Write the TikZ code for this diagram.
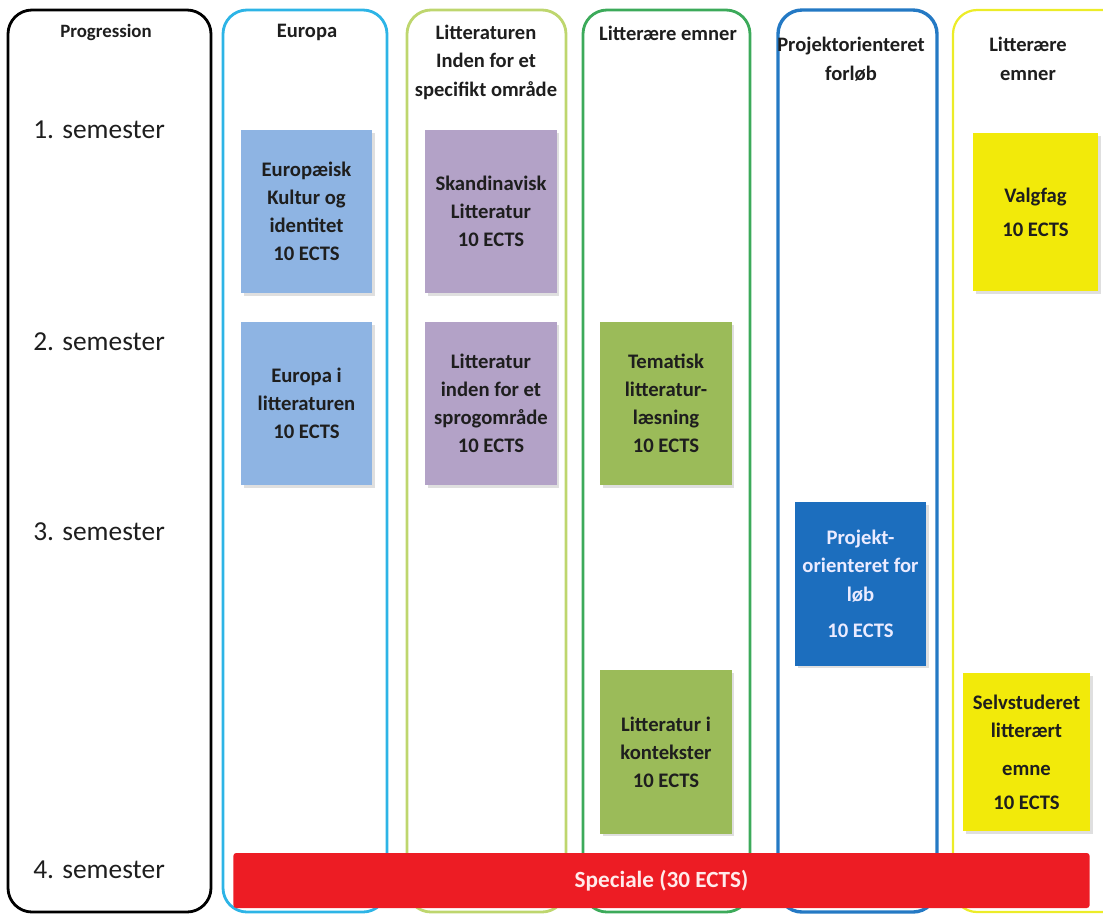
\documentclass[tikz,border=0pt]{standalone}
\usepackage{fontspec}
\setmainfont{Carlito}
\usetikzlibrary{shadows}
\definecolor{lanecyan}{RGB}{45,180,230}
\definecolor{lanelime}{RGB}{190,214,110}
\definecolor{lanegreen}{RGB}{60,170,90}
\definecolor{laneblue}{RGB}{36,121,196}
\definecolor{laneyellow}{RGB}{236,236,40}
\definecolor{boxblue}{RGB}{142,180,227}
\definecolor{boxlilac}{RGB}{179,162,199}
\definecolor{boxolive}{RGB}{155,187,89}
\definecolor{boxnavy}{RGB}{28,110,190}
\definecolor{boxyellow}{RGB}{242,234,10}
\definecolor{boxred}{RGB}{237,28,36}
\definecolor{txt}{RGB}{30,30,30}

\begin{document}
\begin{tikzpicture}[x=0.025cm,y=-0.025cm,
  lane/.style={rounded corners=0.6cm,line width=2pt},
  head/.style={align=center,text=txt,inner sep=0pt,font=\bfseries\fontsize{14.6}{20.3}\selectfont},
  sem/.style={anchor=west,text=txt,inner sep=0pt,font=\fontsize{19.5}{23}\selectfont},
  course/.style={align=center,text=txt,inner sep=0pt,minimum width=3.275cm,minimum height=4.075cm,
    font=\bfseries\fontsize{14.7}{20}\selectfont,
    drop shadow={shadow xshift=2pt,shadow yshift=-2pt,opacity=0.25}}]
\useasboundingbox (0,0) rectangle (1103,917);
\clip (0,0) rectangle (1103,917);

\draw [lane,draw=black] (8,10) rectangle (211,912);
\draw [lane,draw=lanecyan] (223,10) rectangle (387,912);
\draw [lane,draw=lanelime] (407,10) rectangle (566,912);
\draw [lane,draw=lanegreen] (583,10) rectangle (750,912);
\draw [lane,draw=laneblue,line width=2.4pt] (778,10) rectangle (937,912);
\draw [lane,draw=laneyellow,line width=1.6pt] (953,10) rectangle (1130,912);

\node [head,font=\bfseries\fontsize{13.4}{16}\selectfont] (hprog) at (106,32) {Progression};
\node [head] (heuropa) at (307,32) {Europa};
\node [head] (hlit) at (486,62) {Litteraturen\\Inden for et\\specifikt område};
\node [head] (hemner) at (668,33) {Litterære emner};
\node [head] (hprojekt) at (851,59) {Projektorienteret\\forløb};
\node [head] (hvalg) at (1028,59) {Litterære\\emner};

\node [sem] (sem1) at (33,130) {1. semester};
\node [sem] (sem2) at (33,342) {2. semester};
\node [sem] (sem3) at (33,532) {3. semester};
\node [sem] (sem4) at (33,870) {4. semester};

\node [course,fill=boxblue] (kultur) at (306.5,211.5) {Europæisk\\Kultur og\\identitet\\10 ECTS};
\node [course,fill=boxblue] (europalit) at (306.5,403.5) {Europa i\\litteraturen\\10 ECTS};
\node [course,fill=boxlilac] (skandi) at (491,211.5) {Skandinavisk\\Litteratur\\10 ECTS};
\node [course,fill=boxlilac] (sprog) at (491,403.5) {Litteratur\\inden for et\\sprogområde\\10 ECTS};
\node [course,fill=boxolive] (tema) at (666,403.5) {Tematisk\\litteratur-\\læsning\\10 ECTS};
\node [course,fill=boxolive] (kontekst) at (666,752) {Litteratur i\\kontekster\\10 ECTS};
\node [course,fill=boxnavy,text=white!92!blue] (projekt) at (860.5,584) {Projekt-\\orienteret for\\løb\\[6pt]10 ECTS};
\node [course,fill=boxyellow,minimum width=3.125cm,minimum height=3.95cm] (valgfag) at (1035.5,212) {Valgfag\\[4pt]10 ECTS};
\node [course,fill=boxyellow,minimum width=3.175cm,minimum height=3.95cm] (selvstudie) at (1026.5,752) {Selvstuderet\\litterært\\[7pt]emne\\[4pt]10 ECTS};

\node [fill=boxred,rounded corners=2pt,minimum width=21.4cm,minimum height=1.375cm,inner sep=0pt,
  text=red!8!white,font=\bfseries\fontsize{16.5}{20}\selectfont] (speciale) at (661.5,880.5) {Speciale (30 ECTS)};

\end{tikzpicture}
\end{document}
